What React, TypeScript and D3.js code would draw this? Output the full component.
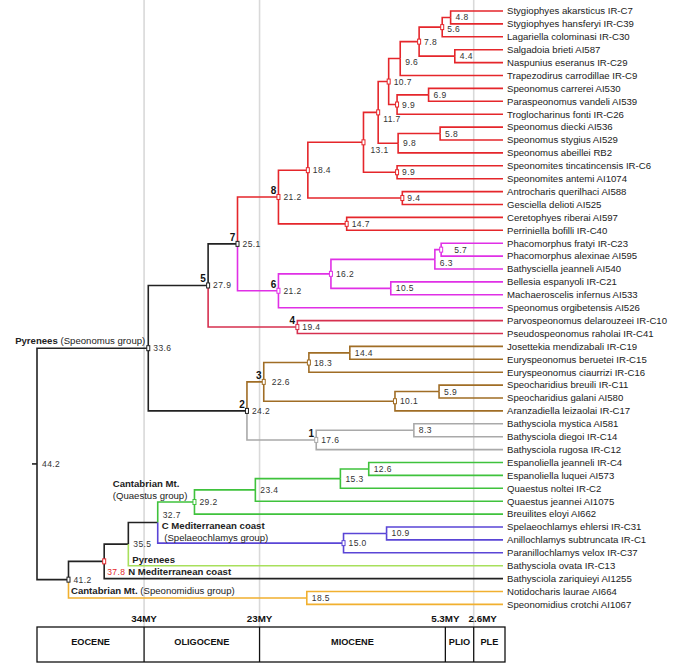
import React from "react";
import * as d3 from "d3";

// ---------------- DATA ----------------
const tipNames = [
  "Stygiophyes akarsticus IR-C7",
  "Stygiophyes hansferyi IR-C39",
  "Lagariella colominasi IR-C30",
  "Salgadoia brieti AI587",
  "Naspunius eseranus IR-C29",
  "Trapezodirus carrodillae IR-C9",
  "Speonomus carrerei AI530",
  "Paraspeonomus vandeli AI539",
  "Troglocharinus fonti IR-C26",
  "Speonomus diecki AI536",
  "Speonomus stygius AI529",
  "Speonomus abeillei RB2",
  "Speonomites tincatincensis IR-C6",
  "Speonomites antemi AI1074",
  "Antrocharis querilhaci AI588",
  "Gesciella delioti AI525",
  "Ceretophyes riberai AI597",
  "Perriniella bofilli IR-C40",
  "Phacomorphus fratyi IR-C23",
  "Phacomorphus alexinae AI595",
  "Bathysciella jeanneli AI540",
  "Bellesia espanyoli IR-C21",
  "Machaeroscelis infernus AI533",
  "Speonomus orgibetensis AI526",
  "Parvospeonomus delarouzeei IR-C10",
  "Pseudospeonomus raholai IR-C41",
  "Josettekia mendizabali IR-C19",
  "Euryspeonomus beruetei IR-C15",
  "Euryspeonomus ciaurrizi IR-C16",
  "Speocharidius breuili IR-C11",
  "Speocharidius galani AI580",
  "Aranzadiella leizaolai IR-C17",
  "Bathysciola mystica AI581",
  "Bathysciola diegoi IR-C14",
  "Bathysciola rugosa IR-C12",
  "Espanoliella jeanneli IR-C4",
  "Espanoliella luquei AI573",
  "Quaestus noltei IR-C2",
  "Quaestus jeannei AI1075",
  "Breuilites eloyi AI662",
  "Spelaeochlamys ehlersi IR-C31",
  "Anillochlamys subtruncata IR-C1",
  "Paranillochlamys velox IR-C37",
  "Bathysciola ovata IR-C13",
  "Bathysciola zariquieyi AI1255",
  "Notidocharis laurae AI664",
  "Speonomidius crotchi AI1067",
];

const tipParents = [
  "a4_8", "a4_8", "a5_6", "a4_4", "a4_4", "a9_6", "a6_9", "a6_9", "a9_9a",
  "a5_8", "a5_8", "a9_8", "a9_9b", "a9_9b", "a9_4", "a9_4", "a14_7", "a14_7",
  "m5_7", "m5_7", "m6_3", "m10_5", "m10_5", "N6", "N4", "N4",
  "b14_4", "b14_4", "b18_3", "b5_9", "b5_9", "b10_1", "g8_3", "g8_3", "N1",
  "q12_6", "q12_6", "q15_3", "q23_4", "q29_2", "s10_9", "s10_9", "s15_0",
  "n35_5", "n37_8", "y18_5", "y18_5",
];

const nodeIds = [
  "root", "n33_6", "n41_2", "N5", "N2", "N7", "N4", "N8", "N6",
  "a18_4", "a14_7", "a13_1", "a9_4", "a11_7", "a9_9b", "a10_7", "a9_8",
  "a9_6", "a9_9a", "a7_8", "a5_6", "a4_8", "a4_4", "a6_9", "a5_8",
  "m16_2", "m6_3", "m5_7", "m10_5",
  "N3", "N1", "b18_3", "b14_4", "b10_1", "b5_9", "g8_3",
  "n37_8", "y18_5", "n35_5", "n32_7", "q29_2", "q23_4", "q15_3", "q12_6",
  "s15_0", "s10_9",
];
const nodeParents = [
  null, "root", "root", "n33_6", "n33_6", "N5", "N5", "N7", "N7",
  "N8", "N8", "a18_4", "a18_4", "a13_1", "a13_1", "a11_7", "a11_7",
  "a10_7", "a10_7", "a9_6", "a7_8", "a5_6", "a7_8", "a9_9a", "a9_8",
  "N6", "m16_2", "m6_3", "m16_2",
  "N2", "N2", "N3", "b18_3", "N3", "b10_1", "N1",
  "n41_2", "n41_2", "n37_8", "n35_5", "n32_7", "q29_2", "q23_4", "q15_3",
  "n32_7", "s15_0",
];
const nodeAges = [
  44.2, 33.6, 41.2, 27.9, 24.2, 25.1, 19.4, 21.2, 21.2,
  18.4, 14.7, 13.1, 9.4, 11.7, 9.9, 10.7, 9.8,
  9.6, 9.9, 7.8, 5.6, 4.8, 4.4, 6.9, 5.8,
  16.2, 6.3, 5.7, 10.5,
  22.6, 17.6, 18.3, 14.4, 10.1, 5.9, 8.3,
  37.8, 18.5, 35.5, 32.7, 29.2, 23.4, 15.3, 12.6,
  15.0, 10.9,
];

const nodeNumbers: Record<string, string> = {
  N1: "1", N2: "2", N3: "3", N4: "4", N5: "5", N6: "6", N7: "7", N8: "8",
};

const markerNodes = [
  "a5_6", "a7_8", "a10_7", "a11_7", "a13_1", "a9_9a", "a9_9b", "a9_4", "a18_4",
  "a14_7", "N8", "N7", "N5", "N4", "N6", "m16_2", "m5_7", "n33_6", "N2", "N3",
  "b18_3", "b10_1", "N1", "q29_2", "s15_0", "n37_8", "n41_2",
];

const eraNames = ["EOCENE", "OLIGOCENE", "MIOCENE", "PLIO", "PLE"];
const eraStarts = [44.2, 34, 23, 5.3, 2.6];
const eraEnds = [34, 23, 5.3, 2.6, 0];
const boundaryAges = [34, 23, 5.3, 2.6];
const boundaryLabels = ["34MY", "23MY", "5.3MY", "2.6MY"];
const gridAges = [34, 23, 2.6];

// ---------------- STYLE ----------------
const BLACK = "#222";
const RED = "#e5262b";
const cladeColors: Record<string, string> = {
  N8: RED,
  N6: "#e030e6",
  N4: "#d6304f",
  N3: "#a06d25",
  N1: "#a9a9a9",
  q29_2: "#3fc23c",
  s15_0: "#5a45d6",
  t43: "#a8e05c",
  y18_5: "#f1b02f",
};
const labelNudge: Record<string, [number, number]> = {
  a11_7: [0, 7],
  a13_1: [2, 8],
  n32_7: [0, -8],
  n37_8: [-2, 10.5],
  m5_7: [8, 0],
  m6_3: [0, 4],
  N3: [3, 0],
  a5_6: [0, 2],
  a9_6: [0, 3],
};
const FONT = "'Liberation Sans', Arial, Helvetica, sans-serif";

export default function App() {
  const W = 685, H = 665;
  const x = d3.scaleLinear().domain([0, 44.2]).range([501, 37]);
  const y = d3.scaleLinear().domain([0, tipNames.length - 1]).range([11, 604.4]);

  const rows: any[] = nodeIds.map((id, i) => ({ id, parentId: nodeParents[i], age: nodeAges[i] }));
  tipNames.forEach((name, i) =>
    rows.push({ id: "t" + i, parentId: tipParents[i], age: 0, name, order: i })
  );
  const root: any = d3.stratify<any>().id((d) => d.id).parentId((d) => d.parentId)(rows);

  root.eachAfter((d: any) => {
    d.px = x(d.data.age);
    if (!d.children) d.py = y(d.data.order);
    else d.py = d3.mean(d.children, (c: any) => c.py);
  });
  root.eachBefore((d: any) => {
    d.color = cladeColors[d.id] ?? (d.parent ? d.parent.color : BLACK);
  });

  const nodes: any[] = root.descendants();
  const byId: Record<string, any> = {};
  nodes.forEach((d) => (byId[d.id] = d));
  const internals = nodes.filter((d) => d.children);
  const leaves = nodes.filter((d) => !d.children);
  const fmt = d3.format(".1f");

  const barTop = 627, barBottom = 662;
  const barRight = x(0) + 4;

  const q = byId["q29_2"], n327 = byId["n32_7"], n355 = byId["n35_5"];
  const n378 = byId["n37_8"], n412 = byId["n41_2"], y185 = byId["y18_5"], n336 = byId["n33_6"];

  return (
    <svg width={W} height={H} style={{ position: "absolute", left: 0, top: 0, background: "#fff" }}
      fontFamily={FONT}>
      <rect width={W} height={H} fill="#fff" />
      {gridAges.map((a) => (
        <line key={a} x1={x(a)} x2={x(a)} y1={0} y2={barTop} stroke="#d9d9d9" strokeWidth={1.6} />
      ))}
      <g fill="none" strokeWidth={1.6}>
        {nodes.filter((d) => d.parent).map((d) => (
          <path key={d.id} d={`M${d.parent.px},${d.parent.py}V${d.py}H${d.id.startsWith("t") ? d.px + 2 : d.px}`}
            stroke={d.color} />
        ))}
        <path d={`M${root.px - 5},${root.py}H${root.px}`} stroke={BLACK} />
      </g>
      {markerNodes.map((id) => {
        const d = byId[id];
        const c = id === "n37_8" ? RED : d.color;
        return <rect key={id} x={d.px - 1.5} y={d.py - 2.5} width={3} height={5} fill="#fff" stroke={c} strokeWidth={1} />;
      })}
      <g fontSize={8.5} fill="#333" letterSpacing={0.4}>
        {internals.map((d) => {
          const [dx, dy] = labelNudge[d.id] ?? [0, 0];
          return (
            <text key={d.id} x={d.px + 5 + dx} y={d.py + dy} dy="0.35em"
              fill={d.id === "n37_8" ? RED : "#333"}>
              {fmt(d.data.age)}
            </text>
          );
        })}
      </g>
      <g fontSize={10} fontWeight="bold" fill="#111" textAnchor="middle">
        {Object.keys(nodeNumbers).map((id) => {
          const d = byId[id];
          return <text key={id} x={d.px - 5} y={d.py - 3}>{nodeNumbers[id]}</text>;
        })}
      </g>
      <g fontSize={9.6} fill="#222">
        {leaves.map((d) => (
          <text key={d.id} x={d.px + 6} y={d.py} dy="0.35em">{d.data.name}</text>
        ))}
      </g>
      <g fontSize={9.6} fill="#222">
        <text x={n336.px - 3} y={n336.py - 4.5} textAnchor="end">
          <tspan fontWeight="bold">Pyrenees</tspan> (Speonomus group)
        </text>
        <text x={n327.px - 45} y={q.py - 15} fontWeight="bold">Cantabrian Mt.</text>
        <text x={n327.px - 45} y={q.py - 3}>(Quaestus group)</text>
        <text x={n327.px + 4} y={n327.py + 6.5} fontWeight="bold">C Mediterranean coast</text>
        <text x={n327.px + 6.5} y={n327.py + 18}>(Spelaeochlamys group)</text>
        <text x={n355.px + 4} y={byId["t43"].py - 2.5} fontWeight="bold">Pyrenees</text>
        <text x={n378.px + 24} y={byId["t44"].py - 3.5} fontWeight="bold">N Mediterranean coast</text>
        <text x={n412.px + 2.5} y={y185.py - 3.5}>
          <tspan fontWeight="bold">Cantabrian Mt.</tspan> (Speonomidius group)
        </text>
      </g>
      <g fontWeight="bold" fill="#111">
        {boundaryAges.map((a, i) => (
          <text key={a} x={x(a) + (a === 2.6 ? 9 : 0)} y={622} fontSize={9.8} textAnchor="middle">
            {boundaryLabels[i]}
          </text>
        ))}
        <rect x={x(eraStarts[0])} y={barTop} width={barRight - x(eraStarts[0])} height={barBottom - barTop}
          fill="none" stroke="#111" strokeWidth={1.3} />
        {eraNames.map((n, i) => {
          const x0 = x(eraStarts[i]);
          const x1 = i === eraNames.length - 1 ? barRight : x(eraEnds[i]);
          return (
            <g key={n}>
              {i > 0 && <line x1={x0} x2={x0} y1={barTop} y2={barBottom} stroke="#111" strokeWidth={1.3} />}
              <text x={(x0 + x1) / 2} y={645} fontSize={9.2} textAnchor="middle">{n}</text>
            </g>
          );
        })}
      </g>
    </svg>
  );
}
